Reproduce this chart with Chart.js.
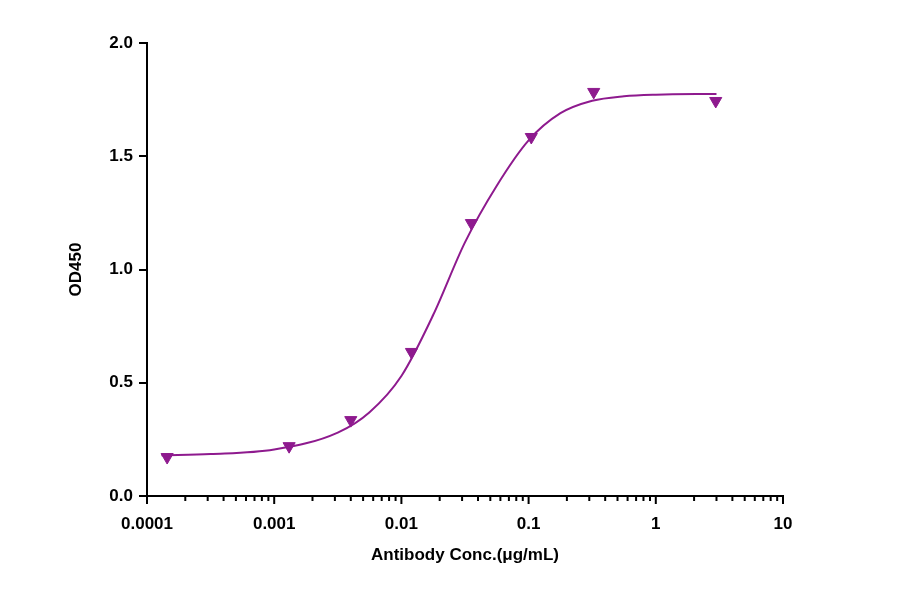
<!DOCTYPE html>
<html lang="en">
<head>
<meta charset="UTF-8">
<title>OD450 vs Antibody Conc.</title>
<script src="https://cdn.jsdelivr.net/npm/chart.js"></script>
<style>
  body { margin: 0; background: #fff; }
  .wrap { width: 900px; height: 594px; }
</style>
</head>
<body>
<div class="wrap"><canvas id="c" width="900" height="594"></canvas></div>
<script>
// measured points
const concs = [0.000144, 0.00131, 0.0040, 0.012, 0.0355, 0.105, 0.325, 2.96];
const od = [0.172, 0.22, 0.335, 0.636, 1.205, 1.585, 1.784, 1.744];
// fitted curve
const curveX = [0.00013, 0.000316, 0.001, 0.00316, 0.00562, 0.01, 0.0178, 0.0316, 0.0562, 0.1, 0.178, 0.316, 0.562, 1, 3];
const curveY = [0.18, 0.185, 0.205, 0.28, 0.37, 0.53, 0.8, 1.12, 1.37, 1.57, 1.69, 1.745, 1.765, 1.772, 1.775];
const yTicks = [0, 0.5, 1.0, 1.5, 2.0];

const purple = "#8e1a8e";
const font = { family: "Liberation Sans, Arial, sans-serif", size: 17, weight: "bold" };

// minor/major tick marks for the log axis
const logTicks = {
  id: "logTicks",
  afterDraw(chart) {
    const x = chart.scales.x, ctx = chart.ctx;
    ctx.save();
    ctx.strokeStyle = "#000";
    ctx.lineWidth = 2;
    for (let e = -4; e <= 1; e++) {
      for (let m = 1; m <= 9; m++) {
        const v = m * Math.pow(10, e);
        if (v > 10.0001) break;
        const px = x.getPixelForValue(v);
        const len = m === 1 ? 8 : 5;
        ctx.beginPath();
        ctx.moveTo(px, x.top);
        ctx.lineTo(px, x.top + len);
        ctx.stroke();
      }
    }
    ctx.restore();
  }
};

new Chart(document.getElementById("c"), {
  type: "scatter",
  data: {
    datasets: [
      {
        data: curveX.map((v, i) => ({ x: v, y: curveY[i] })),
        showLine: true,
        borderColor: purple,
        borderWidth: 2,
        pointRadius: 0,
        cubicInterpolationMode: "monotone"
      },
      {
        data: concs.map((v, i) => ({ x: v, y: od[i] })),
        pointStyle: "triangle",
        rotation: 180,
        pointRadius: 7,
        backgroundColor: purple,
        borderColor: purple
      }
    ]
  },
  options: {
    responsive: false,
    animation: false,
    layout: { padding: { top: 43, right: 117, left: 62, bottom: 24 } },
    plugins: { legend: { display: false }, tooltip: { enabled: false } },
    scales: {
      x: {
        type: "logarithmic",
        min: 0.0001,
        max: 10,
        afterFit: s => { s.height = 74; },
        border: { color: "#000", width: 2 },
        grid: { display: false },
        ticks: {
          color: "#000",
          font: font,
          autoSkip: false,
          maxRotation: 0,
          padding: 10,
          callback: v => {
            const e = Math.log10(v);
            return Math.abs(e - Math.round(e)) < 1e-6 ? String(Number(v.toPrecision(1))) : "";
          }
        },
        title: { display: true, text: "Antibody Conc.(μg/mL)", color: "#000", font: font, padding: { top: 4 } }
      },
      y: {
        min: 0,
        max: 2,
        afterFit: s => { s.width = 85; },
        afterBuildTicks: s => { s.ticks = yTicks.map(v => ({ value: v })); },
        border: { color: "#000", width: 2 },
        grid: { drawOnChartArea: false, color: "#000", lineWidth: 2, tickLength: 8 },
        ticks: { color: "#000", font: font, padding: 6, callback: v => v.toFixed(1) },
        title: { display: true, text: "OD450", color: "#000", font: font, padding: { bottom: 10 } }
      }
    }
  },
  plugins: [logTicks]
});
</script>
</body>
</html>
